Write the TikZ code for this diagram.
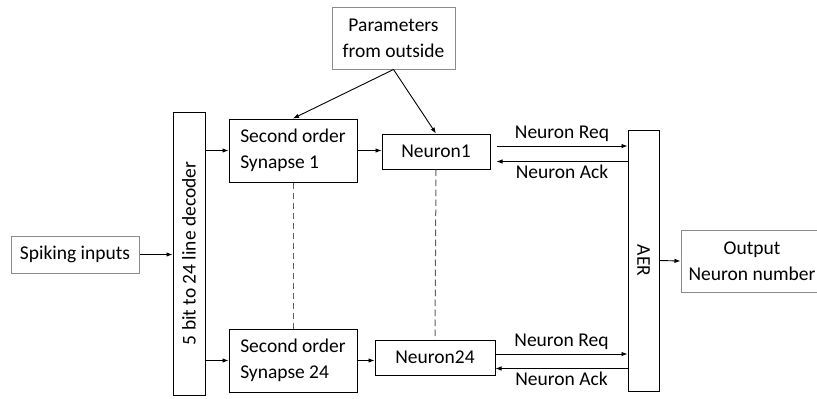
\documentclass[tikz,border=0pt]{standalone}
\usepackage{fontspec}
\setmainfont{Carlito}
\usetikzlibrary{arrows.meta}
\definecolor{boxGray}{HTML}{8C8C8C}
\definecolor{dashGray}{HTML}{606060}

\begin{document}
\begin{tikzpicture}[x=1pt, y=-1pt, font=\fontsize{19.5}{26}\selectfont,
    blk/.style={draw, line width=1pt, inner sep=0pt},
    gblk/.style={blk, draw=boxGray},
    arr/.style={-{Latex[length=6pt,width=4.5pt]}, line width=0.9pt},
    link/.style={dash pattern=on 6.5pt off 3.5pt, draw=dashGray, line width=1pt}]
    \useasboundingbox (0,0) rectangle (817,399);

    % Inputs and decoder
    \node[gblk, minimum width=123pt, minimum height=62pt, align=center] (params) at (393.5,38) {Parameters\\from outside};
    \node[gblk, minimum width=128pt, minimum height=37pt] (spk) at (75,254.5) {Spiking inputs};
    \node[blk, minimum width=32pt, minimum height=283pt] (dec) at (189,253.5) {};
    \node[rotate=90] (declbl) at (dec) {5 bit to 24 line decoder};

    % Synapses and neurons
    \node[blk, minimum width=128pt, minimum height=63pt, align=left] (syn1) at (293,150.5) {Second order\\Synapse 1};
    \node[blk, minimum width=128pt, minimum height=63pt, align=left] (syn24) at (293,360.5) {Second order\\Synapse 24};
    \node[blk, minimum width=108pt, minimum height=35pt] (neu1) at (436,151.5) {Neuron1};
    \node[blk, minimum width=120pt, minimum height=35pt] (neu24) at (435,357.5) {Neuron24};

    % AER and output
    \node[blk, minimum width=31pt, minimum height=261pt] (aer) at (643.5,260.5) {};
    \node[rotate=-90] (aerlbl) at (aer) {AER};
    \node[gblk, minimum width=142pt, minimum height=62pt, align=center] (out) at (752,261) {Output\\Neuron number};

    % Connections
    \draw[arr] (spk) -- (dec.west |- spk);
    \draw[arr] (dec.east |- syn1) -- (syn1.west);
    \draw[arr] (dec.east |- syn24) -- (syn24.west);
    \draw[arr] (params.south) -- (syn1.north);
    \draw[arr] (params.south) -- (neu1.north);
    \draw[arr] (syn1.east) -- (neu1.west |- syn1.east);
    \draw[arr] (syn24.east) -- (neu24.west |- syn24.east);
    \draw[link] (syn1.south) -- (syn24.north);
    \draw[link] (neu1.south) -- (neu24.north);

    % Handshake
    \draw[arr] ([xshift=6pt,yshift=5.5pt]neu1.east) -- ([yshift=5.5pt]aer.west |- neu1.east) node[midway, above=1pt] {Neuron Req};
    \draw[arr] ([yshift=-10pt]aer.west |- neu1.east) -- ([xshift=6pt,yshift=-10pt]neu1.east) node[midway, below] {Neuron Ack};
    \draw[arr] ([yshift=3.5pt]neu24.east) -- ([yshift=3.5pt]aer.west |- neu24.east) node[midway, above=1pt] {Neuron Req};
    \draw[arr] ([yshift=-11pt]aer.west |- neu24.east) -- ([yshift=-11pt]neu24.east) node[midway, below] {Neuron Ack};
    \draw[arr] (aer.east) -- (out.west);
\end{tikzpicture}
\end{document}
